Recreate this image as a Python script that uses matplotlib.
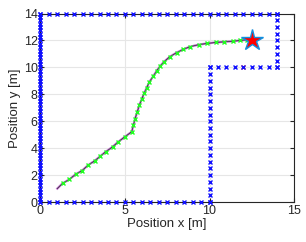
import numpy as np
import matplotlib
matplotlib.use("Agg")
import matplotlib.pyplot as plt

plt.rcParams['font.family'] = ['Liberation Sans', 'DejaVu Sans']

# obstacle walls
wall_left_y = np.arange(0, 14.01, 0.25)
wall_bottom_x = np.arange(0, 10.01, 0.5)
wall_top_x = np.arange(0, 14.01, 0.5)
wall_mid_y = np.arange(0, 10.01, 0.5)
wall_shelf_x = np.arange(10, 14.01, 0.5)
wall_right_y = np.arange(10, 14.01, 0.5)
goal_cell = (12, 10)

# path
path_x = [1.0, 1.31, 1.71, 2.1, 2.46, 2.83, 3.22, 3.55, 3.87, 4.27, 4.6, 5.0, 5.4,
          5.5, 5.6, 5.73, 5.85, 5.99, 6.13, 6.29, 6.45, 6.68, 6.88, 7.08, 7.32,
          7.66, 8.06, 8.45, 8.85, 9.4, 9.87, 10.4, 10.86, 11.37, 11.8, 12.2, 12.5]
path_y = [1.0, 1.39, 1.68, 2.08, 2.33, 2.75, 3.07, 3.42, 3.74, 4.1, 4.47, 4.85, 5.22,
          5.7, 6.2, 6.7, 7.2, 7.63, 8.07, 8.5, 8.93, 9.36, 9.75, 10.1, 10.43,
          10.8, 11.1, 11.34, 11.54, 11.7, 11.78, 11.86, 11.9, 11.95, 12.0, 12.05, 12.03]
target = (12.5, 12.03)

fig = plt.figure(figsize=(3.06, 2.42), dpi=100)
ax = fig.add_axes([0.132, 0.165, 0.829, 0.779])

ax.grid(True, color='#e6e6e6', linewidth=0.8)
ax.set_axisbelow(True)

mk = dict(marker='x', linestyle='none', color='#1010ff', markersize=3.5,
          markeredgewidth=1, clip_on=False, zorder=3)
ax.plot(np.zeros_like(wall_left_y), wall_left_y, **mk)
ax.plot(wall_bottom_x, np.zeros_like(wall_bottom_x), **mk)
ax.plot(wall_top_x, np.full_like(wall_top_x, 14), **mk)
ax.plot(np.full_like(wall_mid_y, 10), wall_mid_y, **mk)
ax.plot(wall_shelf_x, np.full_like(wall_shelf_x, 10), **mk)
ax.plot(np.full_like(wall_right_y, 14), wall_right_y, **mk)
ax.plot(*goal_cell, marker='x', color='#ff3030', markersize=3.5, markeredgewidth=1)

ax.plot(path_x, path_y, color='#c070d0', linewidth=1.6, zorder=3)
ax.plot(path_x, path_y, color='#303030', linewidth=0.5, zorder=4)
ax.plot(path_x[1:-1], path_y[1:-1], 'x', color='#20ff20', markersize=3.5,
        markeredgewidth=1, zorder=5)
ax.plot(*target, marker='*', markersize=16, markerfacecolor='#ff0000',
        markeredgecolor='#1090e0', markeredgewidth=1, zorder=6)

ax.set_xlim(0, 15)
ax.set_ylim(0, 14)
ax.set_xticks([0, 5, 10, 15])
ax.set_yticks(np.arange(0, 15, 2))
ax.tick_params(direction='in', length=3, labelsize=9, colors='#262626',
               top=True, right=True, pad=2)
for s in ax.spines.values():
    s.set_color('#262626')
    s.set_linewidth(0.8)
ax.set_xlabel('Position x [m]', fontsize=9.5, color='#262626', labelpad=1)
ax.set_ylabel('Position y [m]', fontsize=9.5, color='#262626', labelpad=2)

fig.savefig('out.png', dpi=100)
